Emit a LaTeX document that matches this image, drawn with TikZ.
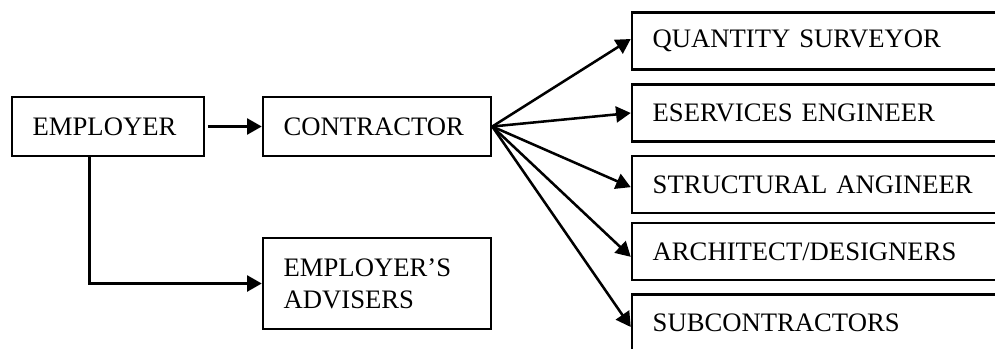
\documentclass[tikz,border=0pt]{standalone}
\usepackage{fontspec}
\setmainfont{Liberation Serif}
\usetikzlibrary{arrows.meta, positioning, calc}

\begin{document}
\begin{tikzpicture}[
  x=0.75pt, y=-0.75pt,
  bx/.style={draw=black, line width=1.9pt, inner xsep=15.5pt, inner ysep=0pt,
             align=left, font=\fontsize{20}{24}\selectfont},
  sbx/.style={bx, minimum width=144pt, text width=113pt, minimum height=44pt},
  mbx/.style={bx, minimum width=171pt, text width=140pt, minimum height=44pt},
  rbx/.style={bx, minimum width=285pt, text width=254pt, minimum height=43pt},
  ar/.style={line width=1.9pt, -{Triangle[length=11pt, width=12pt]}}
]
  \clip (0,0) rectangle (995,349);
  \fill[white] (0,0) rectangle (995,349);

  % ---- left side ----
  \node[sbx] (emp) at (108,126.5) {EMPLOYER};
  \node[mbx] (con) at (377,126.5) {CONTRACTOR};
  \node[mbx, minimum height=68pt] (adv) at (377,283.5) {EMPLOYER'S\\ADVISERS};

  % ---- right side ----
  \node[rbx] (qs)  at (822,41)    {QUANTITY SURVEYOR};
  \node[rbx] (se)  at (822,113)   {ESERVICES ENGINEER};
  \node[rbx] (str) at (822,184.5) {STRUCTURAL ANGINEER};
  \node[rbx] (arc) at (822,251.5) {ARCHITECT/DESIGNERS};
  \node[rbx] (sub) at (822,323)   {SUBCONTRACTORS};

  % ---- connectors ----
  \draw[ar, shorten <=2pt] (emp) -- (con);
  \draw[ar] ([xshift=-14pt]emp.south) |- (adv.west);
  \draw[ar] (con.east) -- ([yshift=1.5pt]qs.west);
  \draw[ar] (con.east) -- (se.west);
  \draw[ar] (con.east) -- ([yshift=-2pt]str.west);
  \draw[ar] (con.east) -- ([yshift=-4pt]arc.west);
  \draw[ar] (con.east) -- ([yshift=-3pt]sub.west);
\end{tikzpicture}
\end{document}
